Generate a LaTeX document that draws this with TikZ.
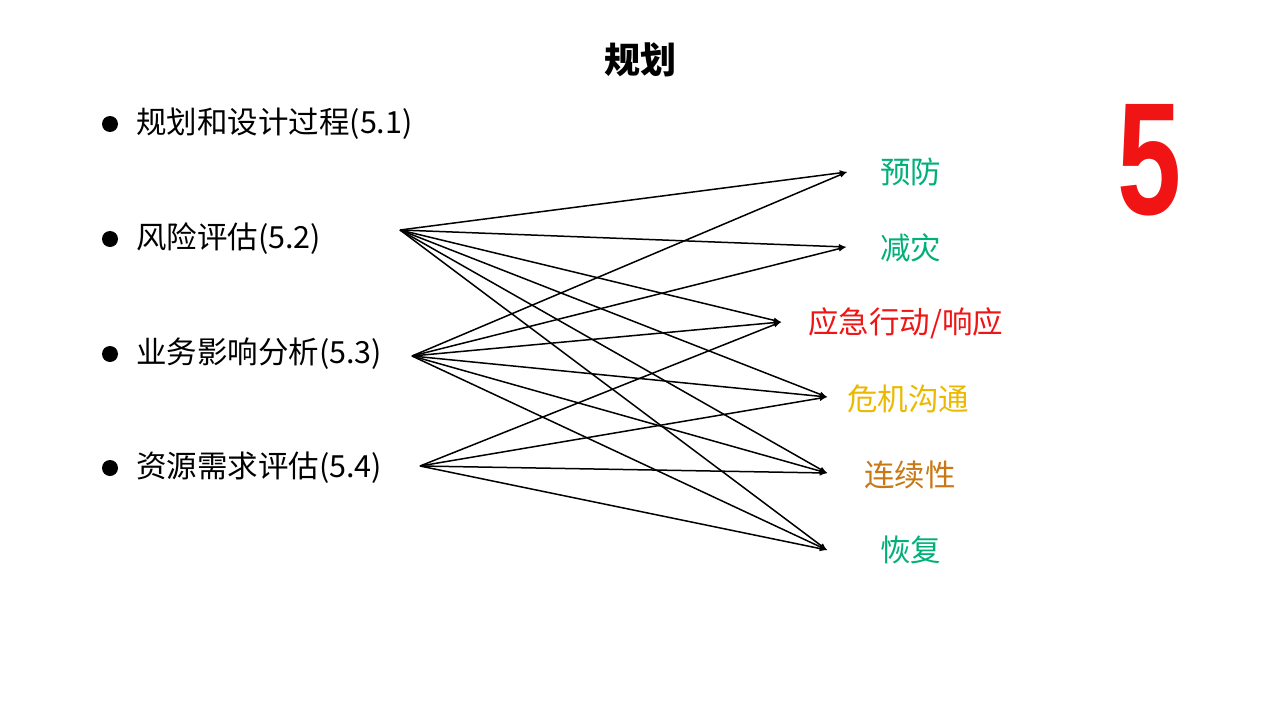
\documentclass[tikz,border=0pt]{standalone}
\usepackage{fontspec}
\setmainfont{Noto Sans CJK SC}
\newfontfamily\numfont{Liberation Sans}
\begin{document}
\begin{tikzpicture}[x=1pt,y=-1pt,
  lbl/.style={anchor=west,inner sep=0pt,font=\fontsize{30.5}{30.5}\selectfont},
  tgt/.style={anchor=west,inner sep=0pt,font=\fontsize{30.5}{30.5}\selectfont},
  ar/.style={-latex,line width=1.5pt},
  dot/.style={circle,fill=black,inner sep=0pt,minimum size=16pt}]
\definecolor{cg}{RGB}{0,176,120}
\definecolor{cr}{RGB}{240,20,20}
\definecolor{cy}{RGB}{235,185,0}
\definecolor{co}{RGB}{200,120,20}
\useasboundingbox (0,0) rectangle (1280,720);
\node[font=\fontsize{36}{36}\selectfont\bfseries] (title) at (640,60) {规划};
\node[dot] (b1) at (110,124) {};
\node[dot] (b2) at (110,239) {};
\node[dot] (b3) at (110,354) {};
\node[dot] (b4) at (110,468) {};
\node[lbl] (l1) at (136,124) {规划和设计过程(5.1)};
\node[lbl] (l2) at (136,239) {风险评估(5.2)};
\node[lbl] (l3) at (136,354) {业务影响分析(5.3)};
\node[lbl] (l4) at (136,468) {资源需求评估(5.4)};
\node[tgt,text=cg] (t1) at (880,172) {预防};
\node[tgt,text=cg] (t2) at (880,248) {减灾};
\node[tgt,text=cr] (t3) at (808,323) {应急行动/响应};
\node[tgt,text=cy] (t4) at (847,399) {危机沟通};
\node[tgt,text=co] (t5) at (864,475) {连续性};
\node[tgt,text=cg] (t6) at (880,550) {恢复};
\node[text=cr,font=\numfont\bfseries\fontsize{160}{160}\selectfont,xscale=0.72] (five) at (1150,160) {5};
\coordinate (A) at (400,230);
\coordinate (B) at (412,356);
\coordinate (C) at (420,466);
\coordinate (e1) at (847,172);
\coordinate (e2) at (846,247);
\coordinate (e3) at (781,322);
\coordinate (e4) at (827,397);
\coordinate (e5) at (827,473);
\coordinate (e6) at (827,550);
\foreach \s in {A,B}{\foreach \e in {e1,e2,e3,e4,e5,e6}{\draw[ar] (\s) -- (\e);}}
\foreach \e in {e3,e4,e5,e6}{\draw[ar] (C) -- (\e);}
\end{tikzpicture}
\end{document}
